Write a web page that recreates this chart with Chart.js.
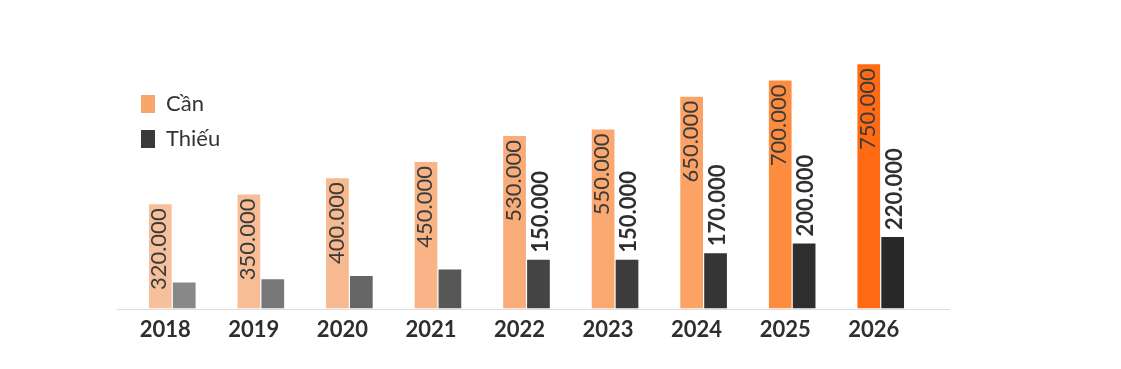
<!DOCTYPE html>
<html lang="vi">
<head>
  <meta charset="UTF-8">
  <title>Cần - Thiếu 2018-2026</title>
  <script src="https://cdn.jsdelivr.net/npm/chart.js"></script>
  <style>
    body { margin: 0; background: #fff; }
    #khung { width: 1121px; height: 369px; }
  </style>
</head>
<body>
  <div id="khung">
    <canvas id="bieuDo" width="1121" height="369"></canvas>
  </div>

  <script>
    const nam = ['2018', '2019', '2020', '2021', '2022', '2023', '2024', '2025', '2026'];
    const can = [320000, 350000, 400000, 450000, 530000, 550000, 650000, 700000, 750000];
    // 2018-2021 khong co nhan, uoc luong theo chieu cao cot
    const thieu = [80000, 90000, 100000, 120000, 150000, 150000, 170000, 200000, 220000];
    const thieuCoNhan = [false, false, false, false, true, true, true, true, true];

    const mauCan = ['#f5c09b', '#f6bd97', '#f7b98f', '#f8b487', '#f9ac78', '#faa870', '#fba264', '#fd8c3e', '#ff6a12'];
    const mauThieu = ['#888888', '#787878', '#666666', '#575757', '#444444', '#3c3c3c', '#353535', '#2e2e2e', '#282828'];

    Chart.defaults.font.family = 'Lato, "Noto Sans", sans-serif';
    Chart.defaults.color = '#333';

    function dinhDang(v) {
      return String(v).replace(/\B(?=(\d{3})+(?!\d))/g, '.');
    }

    // duong day truc x (dai hon vung cot mot chut)
    const duongDay = {
      id: 'duongDay',
      beforeDatasetsDraw(chart) {
        const ctx = chart.ctx;
        const y = Math.round(chart.scales.y.getPixelForValue(0)) + 0.5;
        ctx.save();
        ctx.strokeStyle = '#dcdcdc';
        ctx.lineWidth = 1;
        ctx.beginPath();
        ctx.moveTo(chart.chartArea.left - 11, y);
        ctx.lineTo(chart.chartArea.right + 25, y);
        ctx.stroke();
        ctx.restore();
      }
    };

    // nhan gia tri xoay doc
    const nhanCot = {
      id: 'nhanCot',
      afterDatasetsDraw(chart) {
        const ctx = chart.ctx;
        ctx.save();
        ctx.textBaseline = 'middle';
        chart.getDatasetMeta(0).data.forEach((bar, i) => {
          ctx.save();
          ctx.translate(bar.x - 1, bar.y + 4);
          ctx.rotate(-Math.PI / 2);
          ctx.font = '22px Lato, "Noto Sans", sans-serif';
          ctx.fillStyle = '#3b3b3b';
          ctx.textAlign = 'right';
          ctx.fillText(dinhDang(can[i]), 0, 0);
          ctx.restore();
        });
        chart.getDatasetMeta(1).data.forEach((bar, i) => {
          if (!thieuCoNhan[i]) return;
          ctx.save();
          ctx.translate(bar.x + 2, bar.y - 7);
          ctx.rotate(-Math.PI / 2);
          ctx.font = 'bold 22px Lato, "Noto Sans", sans-serif';
          ctx.fillStyle = '#2f2f2f';
          ctx.textAlign = 'left';
          ctx.fillText(dinhDang(thieu[i]), 0, 0);
          ctx.restore();
        });
        ctx.restore();
      }
    };

    new Chart(document.getElementById('bieuDo'), {
      type: 'bar',
      data: {
        labels: nam,
        datasets: [
          { label: 'Cần', data: can, backgroundColor: mauCan, categoryPercentage: 0.54, barPercentage: 0.95 },
          { label: 'Thiếu', data: thieu, backgroundColor: mauThieu, categoryPercentage: 0.54, barPercentage: 0.95 }
        ]
      },
      options: {
        responsive: false,
        animation: false,
        layout: { padding: { left: 128, right: 196, top: 48, bottom: 18 } },
        scales: {
          x: {
            grid: { display: false, drawTicks: false },
            border: { display: false },
            ticks: { padding: 8, labelOffset: -7, color: '#2e2e2e', font: { size: 22, weight: 'bold' } }
          },
          y: { display: false, min: 0, max: 800000 }
        },
        plugins: {
          tooltip: { enabled: false },
          legend: {
            position: 'chartArea',
            align: 'start',
            title: { display: true, text: '', padding: { top: 68, bottom: 0 }, font: { size: 10 } },
            labels: {
              boxWidth: 14,
              boxHeight: 18,
              padding: 13,
              color: '#333',
              font: { size: 22 },
              generateLabels: () => [
                { text: 'Cần', fillStyle: '#f9a66c', strokeStyle: '#f9a66c', lineWidth: 0, datasetIndex: 0 },
                { text: 'Thiếu', fillStyle: '#3a3a3a', strokeStyle: '#3a3a3a', lineWidth: 0, datasetIndex: 1 }
              ]
            }
          }
        }
      },
      plugins: [duongDay, nhanCot]
    });
  </script>
</body>
</html>
